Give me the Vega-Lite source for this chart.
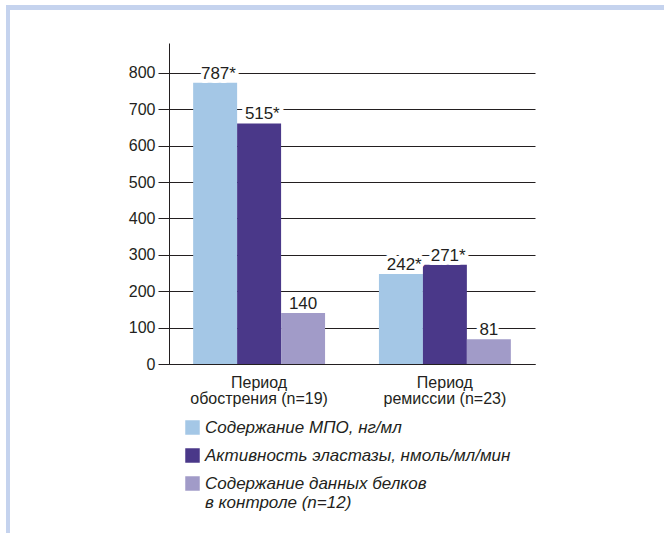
{
  "$schema": "https://vega.github.io/schema/vega-lite/v6.json",
  "padding": {"left": 6, "top": 5, "right": 0, "bottom": 0},
  "background": "white",
  "config": {"view": {"stroke": null}, "font": "Liberation Sans", "concat": {"spacing": 0}},
  "spacing": 0,
  "vconcat": [
    {
      "data": {"values": []},
      "mark": "point",
      "width": 658,
      "height": 5,
      "view": {"fill": "#c5d3ee", "stroke": null}
    },
    {
      "spacing": 0,
      "hconcat": [
        {
          "data": {"values": []},
          "mark": "point",
          "width": 4,
          "height": 523,
          "view": {"fill": "#c5d3ee", "stroke": null}
        },
        {
          "width": 366,
          "height": 354,
          "data": {
            "values": [
              {"period": "Период обострения (n=19)", "series": "Содержание МПО, нг/мл", "height": 773, "label": "787", "sig": "*"},
              {"period": "Период обострения (n=19)", "series": "Активность  эластазы, нмоль/мл/мин", "height": 661, "label": "515", "sig": "*"},
              {"period": "Период обострения (n=19)", "series": "Содержание данных белков в контроле (n=12)", "height": 140, "label": "140", "sig": ""},
              {"period": "Период ремиссии (n=23)", "series": "Содержание МПО, нг/мл", "height": 247, "label": "242", "sig": "*"},
              {"period": "Период ремиссии (n=23)", "series": "Активность  эластазы, нмоль/мл/мин", "height": 273, "label": "271", "sig": "*"},
              {"period": "Период ремиссии (n=23)", "series": "Содержание данных белков в контроле (n=12)", "height": 68, "label": "81", "sig": ""}
            ]
          },
          "encoding": {
            "x": {
              "field": "period", "type": "nominal", "sort": null, "title": null,
              "scale": {"paddingInner": 0.29, "paddingOuter": 0.13},
              "axis": {
                "labelExpr": "[substring(datum.label, 0, indexof(datum.label, ' ')), substring(datum.label, indexof(datum.label, ' ') + 1)]",
                "labelAngle": 0, "ticks": false, "tickSize": 0, "labelPadding": 10,
                "labelFontSize": 16, "labelLineHeight": 16, "labelColor": "#231f20",
                "domainColor": "#231f20", "domainWidth": 1, "grid": false
              }
            },
            "xOffset": {
              "field": "series", "type": "nominal",
              "scale": {"domain": ["Содержание МПО, нг/мл", "Активность  эластазы, нмоль/мл/мин", "Содержание данных белков в контроле (n=12)"], "paddingInner": 0, "paddingOuter": 0}
            },
            "y": {
              "field": "height", "type": "quantitative", "title": null,
              "scale": {"domain": [0, 882], "nice": false, "range": [354, 33]},
              "axis": {
                "values": [0, 100, 200, 300, 400, 500, 600, 700, 800],
                "grid": true, "gridColor": "#231f20", "gridWidth": 1, "gridOpacity": 1,
                "domainColor": "#231f20", "tickColor": "#231f20", "tickSize": 11,
                "labelFontSize": 16, "labelColor": "#231f20", "labelPadding": 3,
                "minExtent": 159
              }
            }
          },
          "layer": [
            {
              "mark": {"type": "bar"},
              "encoding": {
                "color": {
                  "field": "series", "type": "nominal",
                  "scale": {
                    "domain": ["Содержание МПО, нг/мл", "Активность  эластазы, нмоль/мл/мин", "Содержание данных белков в контроле (n=12)"],
                    "range": ["#a4c7e6", "#4a3889", "#a19bc8"]
                  },
                  "legend": {
                    "orient": "none", "legendX": 178, "legendY": 414, "title": null,
                    "symbolType": "square", "symbolSize": 210, "symbolStrokeWidth": 0, "symbolOpacity": 1,
                    "labelFontSize": 17, "labelFontStyle": "italic", "labelColor": "#231f20",
                    "labelOffset": 4, "labelLimit": 400, "rowPadding": 10, "padding": 0,
                    "labelExpr": "datum.label == 'Содержание данных белков в контроле (n=12)' ? ['Содержание данных белков', 'в контроле (n=12)'] : datum.label"
                  }
                }
              }
            },
            {
              "mark": {"type": "text", "baseline": "alphabetic", "dy": -4, "fontSize": 17, "fill": "white", "stroke": "white", "strokeWidth": 8, "strokeJoin": "round"},
              "encoding": {"text": {"field": "label"}}
            },
            {
              "transform": [{"filter": "datum.sig != ''"}],
              "mark": {"type": "text", "baseline": "alphabetic", "align": "left", "dx": 14, "dy": -4, "fontSize": 17, "fill": "white", "stroke": "white", "strokeWidth": 8, "strokeJoin": "round"},
              "encoding": {"text": {"field": "sig"}}
            },
            {
              "mark": {"type": "text", "baseline": "alphabetic", "dy": -4, "fontSize": 17, "color": "#231f20"},
              "encoding": {"text": {"field": "label"}}
            },
            {
              "transform": [{"filter": "datum.sig != ''"}],
              "mark": {"type": "text", "baseline": "alphabetic", "align": "left", "dx": 14, "dy": -4, "fontSize": 17, "color": "#231f20"},
              "encoding": {"text": {"field": "sig"}}
            }
          ]
        }
      ]
    }
  ]
}
